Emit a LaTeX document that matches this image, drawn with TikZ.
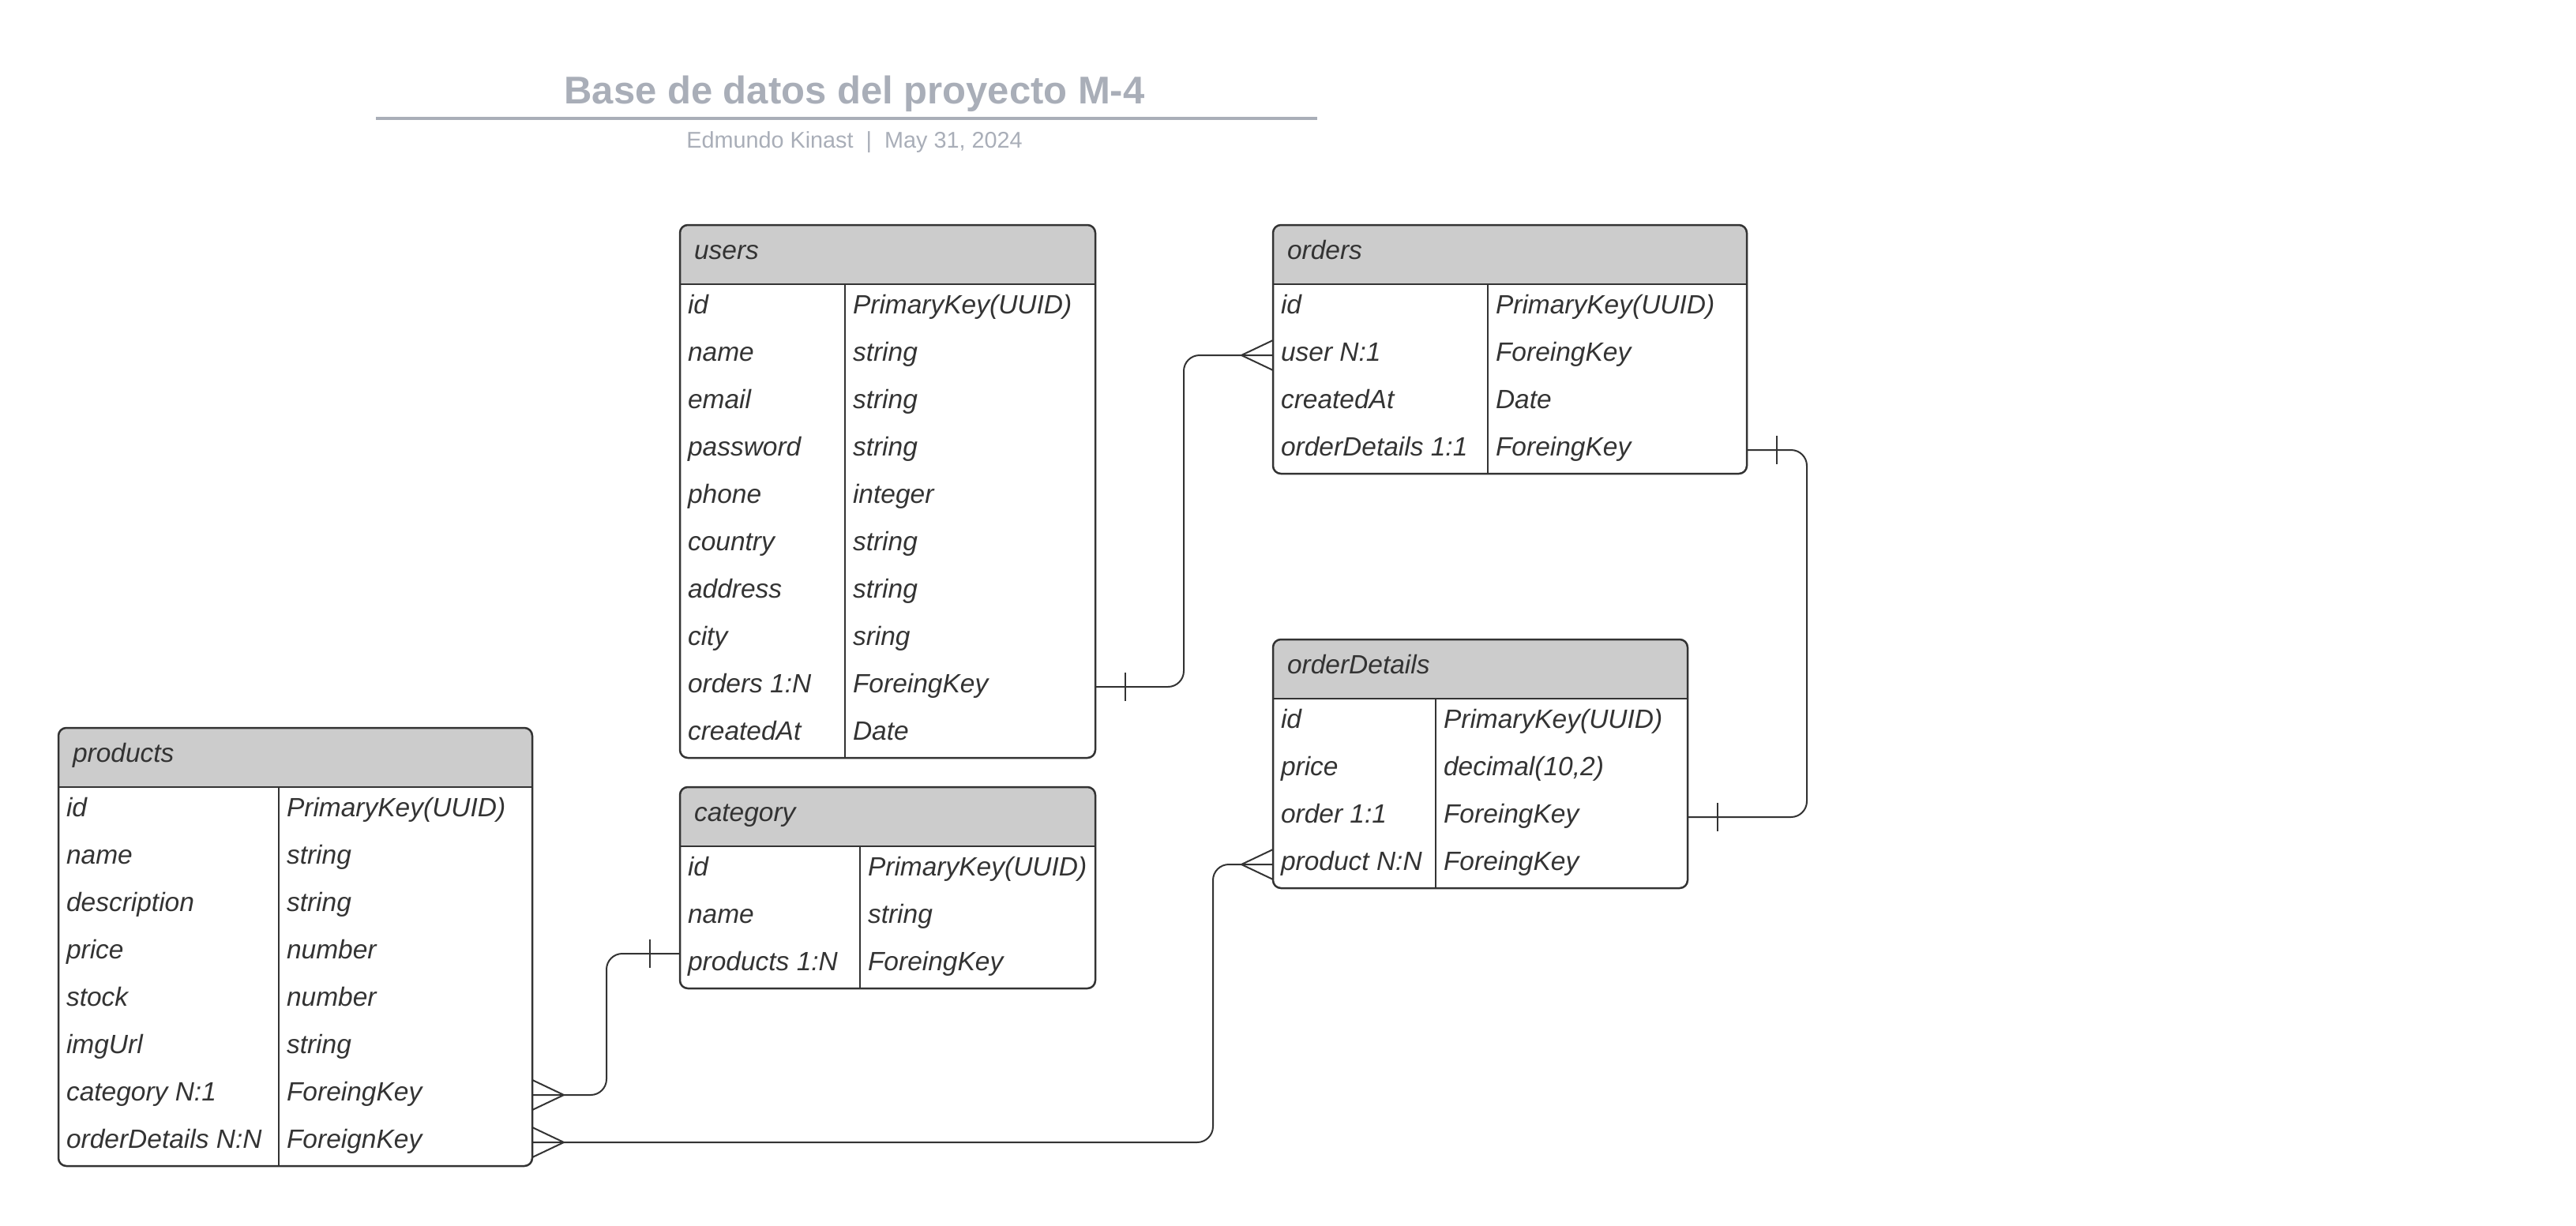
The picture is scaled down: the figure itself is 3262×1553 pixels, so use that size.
\documentclass[tikz,border=0pt]{standalone}
\usepackage{fontspec}
\setmainfont{Liberation Sans}
\usetikzlibrary{calc}
\definecolor{ink}{HTML}{333333}
\definecolor{hdr}{HTML}{CCCCCC}
\definecolor{titlegray}{HTML}{A9AEB8}
\tikzset{
  tblframe/.style={draw=ink, line width=1.25pt, rounded corners=5pt, inner sep=0pt, outer sep=0pt},
  tcell/.style={inner sep=0pt, outer sep=0pt, minimum height=30pt},
  celltext/.style={inner sep=0pt, outer sep=0pt, text=ink, font=\fontsize{16.75pt}{20pt}\selectfont\itshape},
  hdrtext/.style={celltext},
  erule/.style={draw=ink, line width=1pt},
  conn/.style={draw=ink, line width=1pt, rounded corners=10pt},
  tickline/.style={draw=ink, line width=0.75pt},
  crow/.style={draw=ink, line width=1pt},
}
\newcommand\ertable[8]{%
  \pgfmathsetmacro\erYh{#5+75}%
  \pgfmathsetmacro\erYb{#5+75+60*#7}%
  \pgfmathsetmacro\erW{(#4-#2)*0.5}%
  \pgfmathsetmacro\erH{(\erYb-#5)*0.5}%
  \pgfmathsetmacro\erWa{(#3-#2)*0.5}%
  \pgfmathsetmacro\erWb{(#4-#3)*0.5}%
  \pgfmathsetmacro\erXa{(#2+#3)/2}%
  \pgfmathsetmacro\erXb{(#3+#4)/2}%
  \fill[hdr, rounded corners=5pt] (#2,#5) rectangle (#4,\erYh);
  \fill[hdr] (#2,#5+20) rectangle (#4,\erYh);
  \node[tblframe, minimum width=\erW pt, minimum height=\erH pt, anchor=north west] (#1) at (#2,#5) {};
  \node[hdrtext, anchor=base west] (#1-h) at (#2+18,#5+43) {#6};
  \draw[erule] (#2,\erYh) -- (#4,\erYh);
  \draw[erule] (#3,\erYh) -- (#3,\erYb);
  \foreach \a/\b [count=\i] in {#8}{%
    \pgfmathsetmacro\erYc{\erYh+60*\i-30}%
    \node[tcell, minimum width=\erWa pt] (#1-a\i) at (\erXa,\erYc) {};
    \node[tcell, minimum width=\erWb pt] (#1-b\i) at (\erXb,\erYc) {};
    \node[celltext, anchor=base west] (#1-ta\i) at (#2+10,\erYc+7) {\a};
    \node[celltext, anchor=base west] (#1-tb\i) at (#3+10,\erYc+7) {\b};
  }%
}
\newcommand\crowfoot[2]{\draw[crow] ($(#1)+(0,-19)$) -- ($(#1)+(#2*40,0)$) -- ($(#1)+(0,19)$);}
\newcommand\onetick[2]{\draw[tickline] ($(#1)+(#2*38,-18)$) -- ($(#1)+(#2*38,18)$);}
\begin{document}
\begin{tikzpicture}[x=0.5pt, y=-0.5pt]
  \useasboundingbox (0,0) rectangle (3262,1553);
  % title block
  \node[font=\fontsize{24.5pt}{28pt}\selectfont\bfseries, text=titlegray, anchor=base, inner sep=0pt] (title) at (1082,131) {Base de datos del proyecto M-4};
  \coordinate (tl) at (476,150);
  \coordinate (tr) at (1668,150);
  \draw[titlegray, line width=2pt] (tl) -- (tr);
  \node[font=\fontsize{14.4pt}{17pt}\selectfont, text=titlegray, anchor=base, inner sep=0pt] (sub) at (1082,187) {Edmundo Kinast\ \ |\ \ May 31, 2024};
  % tables
  \ertable{users}{861}{1070}{1387}{285}{users}{10}{id/PrimaryKey(UUID), name/string, email/string, password/string, phone/integer, country/string, address/string, city/sring, orders 1:N/ForeingKey, createdAt/Date}
  \ertable{orders}{1612}{1884}{2212}{285}{orders}{4}{id/PrimaryKey(UUID), user N:1/ForeingKey, createdAt/Date, orderDetails 1:1/ForeingKey}
  \ertable{orderDetails}{1612}{1818}{2137}{810}{orderDetails}{4}{id/PrimaryKey(UUID), price/{decimal(10,2)}, order 1:1/ForeingKey, product N:N/ForeingKey}
  \ertable{category}{861}{1089}{1387}{997}{category}{3}{id/PrimaryKey(UUID), name/string, products 1:N/ForeingKey}
  \ertable{products}{74}{353}{674}{922}{products}{8}{id/PrimaryKey(UUID), name/string, description/string, price/number, stock/number, imgUrl/string, category N:1/ForeingKey, orderDetails N:N/ForeignKey}
  % connectors
  \draw[conn] (users-b9.east) -- ++(112,0) |- (orders-a2.west);
  \draw[conn] (orders-b4.east) -- ++(76,0) |- (orderDetails-b3.east);
  \coordinate (catP) at ([yshift=7pt]category-a3.west);
  \draw[conn] (catP) -- ++(-93,0) |- (products-b7.east);
  \draw[conn] (orderDetails-a4.west) -- ++(-76,0) |- (products-b8.east);
  % ends
  \onetick{users-b9.east}{1}
  \crowfoot{orders-a2.west}{-1}
  \onetick{orders-b4.east}{1}
  \onetick{orderDetails-b3.east}{1}
  \onetick{catP}{-1}
  \crowfoot{products-b7.east}{1}
  \crowfoot{products-b8.east}{1}
  \crowfoot{orderDetails-a4.west}{-1}
\end{tikzpicture}
\end{document}
